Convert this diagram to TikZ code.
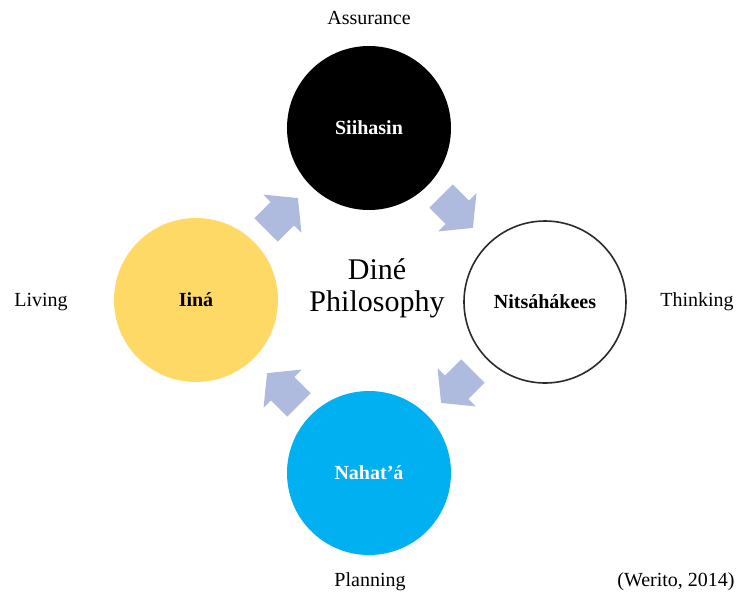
\documentclass[tikz,border=0pt]{standalone}
\usepackage{fontspec}
\setmainfont{Liberation Serif}
\definecolor{arrowc}{HTML}{AFBBDE}
\definecolor{bluec}{HTML}{00B0F0}
\definecolor{yellowc}{HTML}{FFD966}
\definecolor{ringc}{HTML}{2A2A2A}
\newcommand{\blockarrow}[3]{%
  \fill[arrowc, shift={(#1,#2)}, rotate=#3]
    (-22.5,-16.5) -- (0.5,-16.5) -- (0.5,-27) -- (22.5,0) -- (0.5,27) -- (0.5,16.5) -- (-22.5,16.5) -- cycle;}
\begin{document}
\begin{tikzpicture}[x=1pt,y=-1pt,
  disc/.style={circle, minimum size=164pt, inner sep=0pt, font=\fontsize{20}{24}\selectfont\bfseries},
  lbl/.style={font=\fontsize{20}{24}\selectfont, inner sep=0pt}]
\useasboundingbox (0,0) rectangle (742,598);
\fill[white] (0,0) rectangle (742,598);
% circles
\node[disc, fill=black, text=white] (sii) at (369,128) {Siihasin};
\node[disc, fill=white, draw=ringc, line width=1.6pt, minimum size=162pt] (nit) at (545,302) {Nitsáhákees};
\node[disc, fill=bluec, text=white] (nah) at (369,473) {Nahat’á};
\node[disc, fill=yellowc, text=black] (iin) at (196,300) {Iiná};
% centre
\node[align=center, font=\fontsize{30}{32}\selectfont, inner sep=0pt] (dp) at (377,288) {Diné\\Philosophy};
% outer labels
\node[lbl] (ass) at (369,18) {Assurance};
\node[lbl] (liv) at (41,302) {Living};
\node[lbl] (thi) at (697,302) {Thinking};
\node[lbl] (pla) at (370,582) {Planning};
\node[lbl] (wer) at (676,582) {(Werito, 2014)};
% arrows
\blockarrow{282}{214}{45}
\blockarrow{457}{212}{-45}
\blockarrow{457}{387}{-135}
\blockarrow{283}{389}{135}
\end{tikzpicture}
\end{document}
